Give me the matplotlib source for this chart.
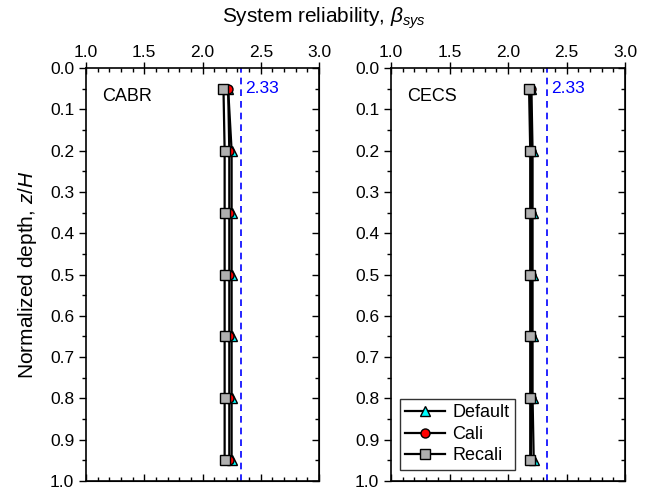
import matplotlib
matplotlib.use('Agg')
import matplotlib.pyplot as plt
from matplotlib.ticker import MultipleLocator

plt.rcParams['font.family'] = ['Liberation Sans', 'DejaVu Sans']
plt.rcParams['mathtext.fontset'] = 'custom'
plt.rcParams['mathtext.it'] = 'Liberation Sans:italic'
plt.rcParams['mathtext.rm'] = 'Liberation Sans'

depth = [0.05, 0.2, 0.35, 0.5, 0.65, 0.8, 0.95]

# CABR panel
cabr_default = [2.22, 2.25, 2.25, 2.25, 2.25, 2.25, 2.25]
cabr_cali = [2.22, 2.23, 2.23, 2.23, 2.23, 2.23, 2.23]
cabr_recali = [2.18, 2.19, 2.19, 2.19, 2.19, 2.19, 2.19]

# CECS panel
cecs_default = [2.20, 2.21, 2.21, 2.21, 2.21, 2.21, 2.22]
cecs_cali = [2.20, 2.20, 2.20, 2.20, 2.20, 2.20, 2.20]
cecs_recali = [2.18, 2.19, 2.19, 2.19, 2.19, 2.19, 2.19]

target = 2.33
panel_names = ['CABR', 'CECS']

fig = plt.figure(figsize=(6.48, 4.9), dpi=100)
ax1 = fig.add_axes([86/648, 1-481/490, 233/648, 413/490])
ax2 = fig.add_axes([391/648, 1-481/490, 234/648, 413/490])

series = [(cabr_default, cabr_cali, cabr_recali), (cecs_default, cecs_cali, cecs_recali)]

for ax, (d, c, r), name in zip([ax1, ax2], series, panel_names):
    ax.plot(r, depth, '-s', color='black', lw=1.6, ms=6.5, mfc='#b0b0b0', mec='black', mew=1, label='Recali', zorder=3)
    ax.plot(c, depth, '-o', color='black', lw=1.6, ms=6.5, mfc='red', mec='black', mew=1, label='Cali', zorder=2)
    ax.plot(d, depth, '-^', color='black', lw=1.6, ms=6.5, mfc='cyan', mec='black', mew=1, label='Default', zorder=1)
    ax.axvline(target, color='blue', ls=(0, (4, 3)), lw=1.2)
    ax.text(target + 0.04, 0.05, f'{target:.2f}', color='blue', fontsize=12.5, va='center')
    ax.text(0.07, 0.93, name, transform=ax.transAxes, fontsize=13, va='center')

    ax.set_xlim(1.0, 3.0)
    ax.set_ylim(1.0, 0.0)
    ax.xaxis.tick_top()
    ax.xaxis.set_major_locator(MultipleLocator(0.5))
    ax.xaxis.set_minor_locator(MultipleLocator(0.1))
    ax.yaxis.set_major_locator(MultipleLocator(0.1))
    ax.yaxis.set_minor_locator(MultipleLocator(0.05))
    ax.xaxis.set_major_formatter(plt.FormatStrFormatter('%.1f'))
    ax.yaxis.set_major_formatter(plt.FormatStrFormatter('%.1f'))
    ax.tick_params(axis='x', which='major', direction='inout', length=8, width=1, labelsize=12.5, pad=2)
    ax.tick_params(axis='x', which='minor', direction='in', length=3, width=1)
    ax.tick_params(axis='y', which='major', direction='out', length=5, width=1, labelsize=12.5)
    ax.tick_params(axis='y', which='minor', direction='out', length=3, width=1)
    for s in ax.spines.values():
        s.set_linewidth(1.2)

    sec_y = ax.secondary_yaxis('right')
    sec_y.yaxis.set_major_locator(MultipleLocator(0.1))
    sec_y.yaxis.set_minor_locator(MultipleLocator(0.05))
    sec_y.tick_params(which='major', direction='in', length=5, width=1, labelright=False)
    sec_y.tick_params(which='minor', direction='in', length=3, width=1)
    sec_x = ax.secondary_xaxis('bottom')
    sec_x.xaxis.set_major_locator(MultipleLocator(0.5))
    sec_x.xaxis.set_minor_locator(MultipleLocator(0.1))
    sec_x.tick_params(which='major', direction='in', length=5, width=1, labelbottom=False)
    sec_x.tick_params(which='minor', direction='in', length=3, width=1)

handles, labels = ax2.get_legend_handles_labels()
leg = ax2.legend(handles[::-1], labels[::-1], loc='lower left', fontsize=13, frameon=True,
                 fancybox=False, edgecolor='black', handlelength=2.2, handletextpad=0.4,
                 borderpad=0.3, labelspacing=0.25, bbox_to_anchor=(0.0, 0.005))
leg.get_frame().set_linewidth(1.0)

ax1.set_ylabel('Normalized depth, $z$/$H$', fontsize=15, labelpad=8)
fig.text(0.5, 0.962, r'System reliability, $\beta_{sys}$', fontsize=15, ha='center', va='center')

fig.savefig('out.png', dpi=100)
